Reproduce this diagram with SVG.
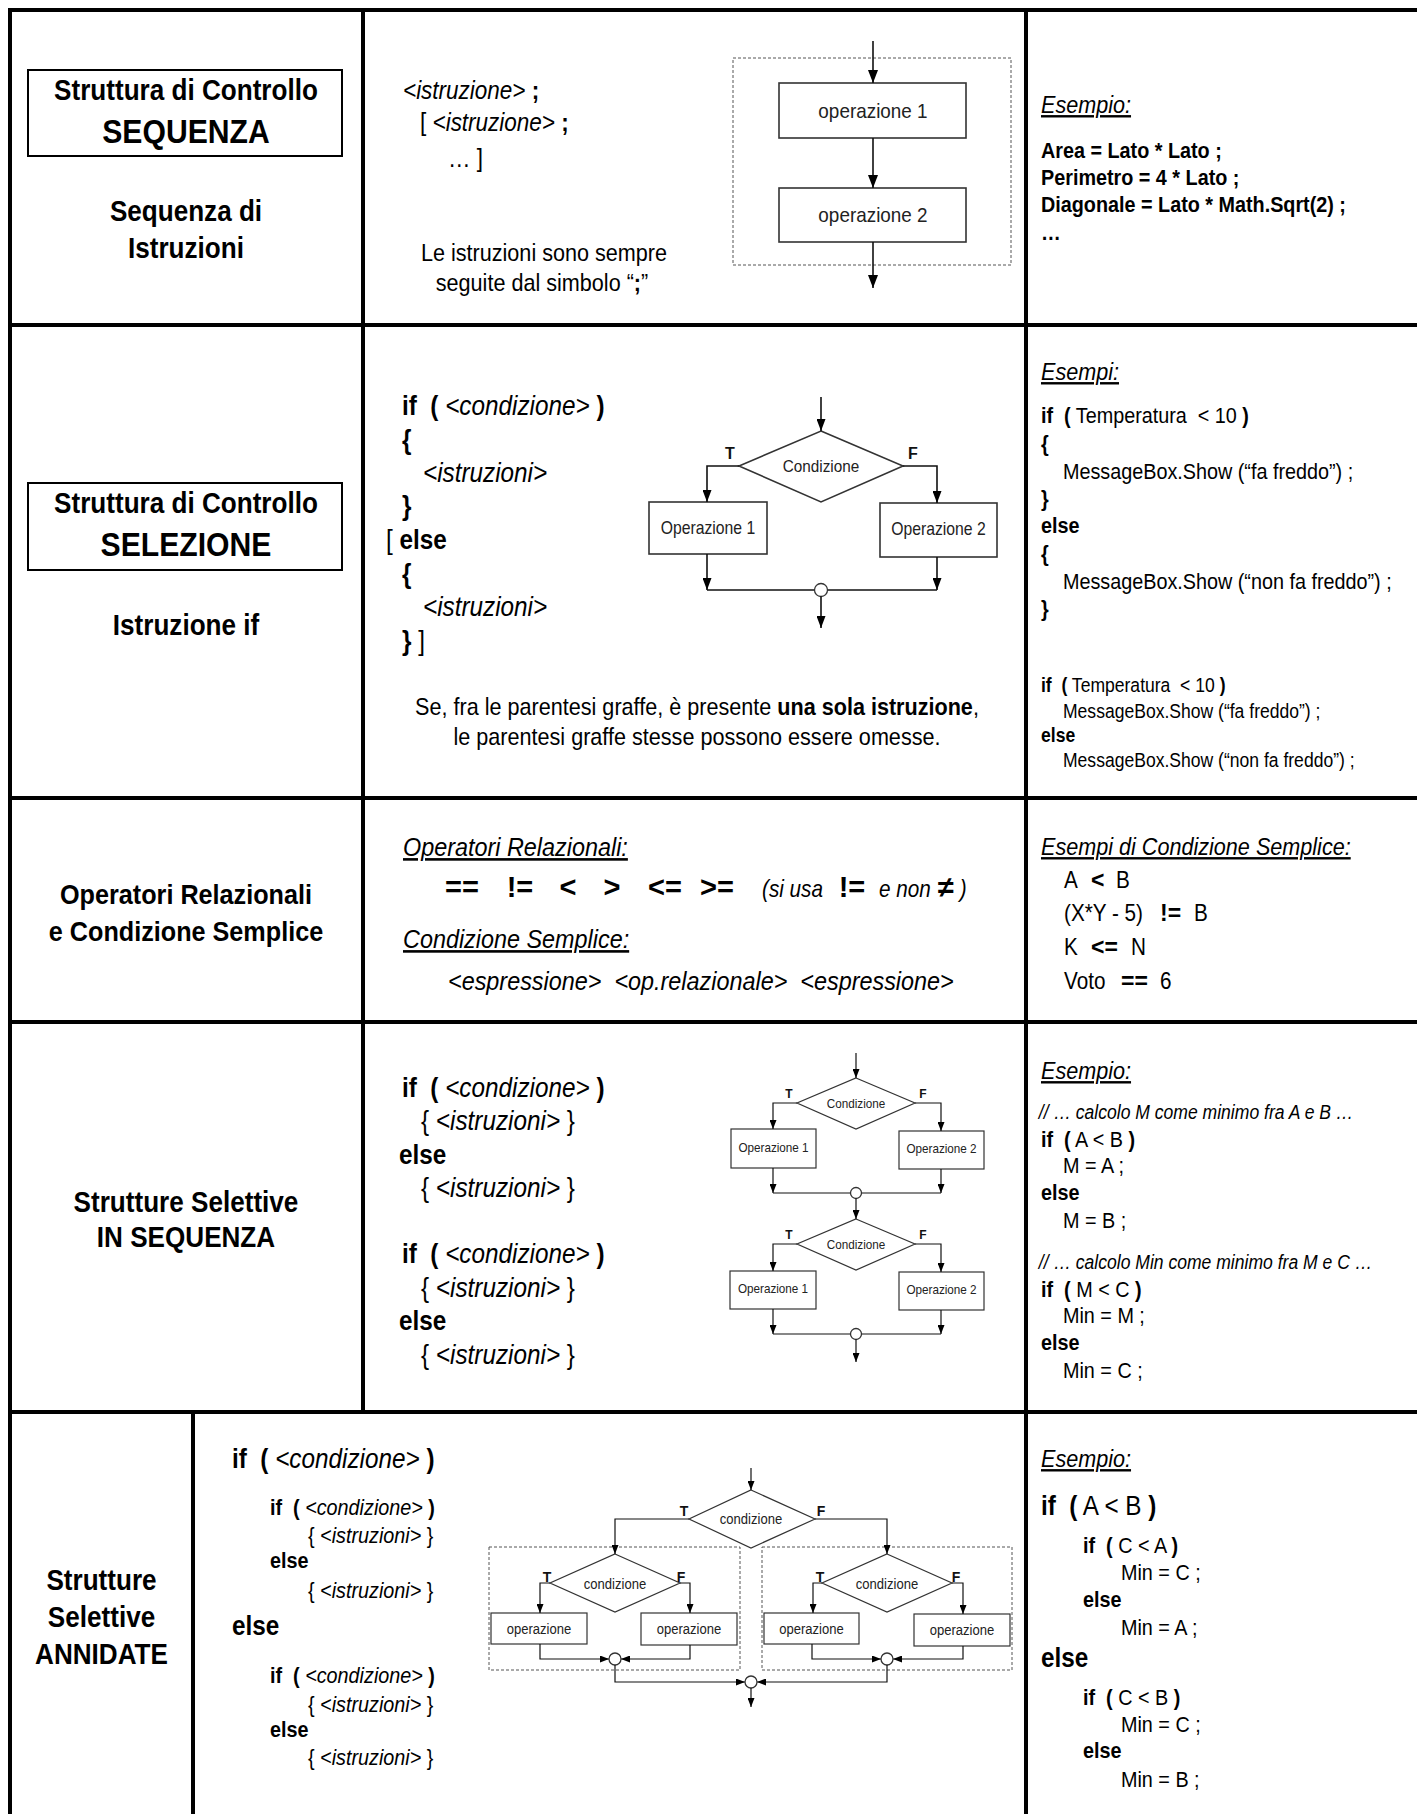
<svg xmlns="http://www.w3.org/2000/svg" width="1417" height="1814" viewBox="0 0 1417 1814">
<style>
text { font-family: "Liberation Sans", Arial, Helvetica, sans-serif; fill: #000; white-space: pre; }
.c { transform-box: fill-box; transform-origin: 0% 50%; transform: scaleX(0.9); }
.m { text-anchor: middle; transform-box: fill-box; transform-origin: 50% 50%; transform: scaleX(0.9); }
.b { font-weight: bold; }
.i { font-style: italic; }
.u { text-decoration: underline; }
.grid { stroke: #000; stroke-width: 4; stroke-linecap: square; fill: none; }
.tbox { fill: none; stroke: #000; stroke-width: 2; }
.box { fill: #fff; stroke: #333; stroke-width: 1.6; }
.box2 { fill: #fff; stroke: #333; stroke-width: 1.2; }
.dash { fill: none; stroke: #555; stroke-width: 1; stroke-dasharray: 3 2; }
.ln { fill: none; stroke: #111; stroke-width: 1.6; }
.ln2 { fill: none; stroke: #111; stroke-width: 1.2; }
.jn { fill: #fff; stroke: #333; stroke-width: 1.3; }
.fc { fill: #222; }
.tf { font-weight: bold; text-anchor: middle; fill: #111; }
</style>
<defs>
<marker id="aL" viewBox="0 0 10 10" refX="10" refY="5" markerWidth="13" markerHeight="10" markerUnits="userSpaceOnUse" orient="auto" preserveAspectRatio="none"><path d="M0,0L10,5L0,10z" fill="#000"/></marker>
<marker id="aM" viewBox="0 0 10 10" refX="10" refY="5" markerWidth="12" markerHeight="9" markerUnits="userSpaceOnUse" orient="auto" preserveAspectRatio="none"><path d="M0,0L10,5L0,10z" fill="#000"/></marker>
<marker id="aS" viewBox="0 0 10 10" refX="10" refY="5" markerWidth="9" markerHeight="7" markerUnits="userSpaceOnUse" orient="auto" preserveAspectRatio="none"><path d="M0,0L10,5L0,10z" fill="#000"/></marker>
</defs>
<rect width="1417" height="1814" fill="#fff"/>

<g id="grid" class="grid">
<line x1="10" y1="10" x2="1417" y2="10"/>
<line x1="10" y1="10" x2="10" y2="1814"/>
<line x1="363" y1="10" x2="363" y2="1412"/>
<line x1="1026" y1="10" x2="1026" y2="1814"/>
<line x1="10" y1="325" x2="1417" y2="325"/>
<line x1="10" y1="798" x2="1417" y2="798"/>
<line x1="10" y1="1022" x2="1417" y2="1022"/>
<line x1="10" y1="1412" x2="1417" y2="1412"/>
<line x1="193" y1="1412" x2="193" y2="1814"/>
</g>

<!-- ROW 1 -->
<g id="r1-label">
<rect class="tbox" x="28" y="70" width="314" height="86"/>
<text class="m b" x="186" y="100" font-size="29">Struttura di Controllo</text>
<text class="m b" x="186" y="143" font-size="33.5">SEQUENZA</text>
<text class="m b" x="186" y="221" font-size="29">Sequenza di</text>
<text class="m b" x="186" y="258" font-size="29">Istruzioni</text>
</g>
<g id="r1-syntax" font-size="25">
<text class="c" x="403" y="99"><tspan class="i">&lt;istruzione&gt;</tspan><tspan class="b"> ;</tspan></text>
<text class="c" x="420" y="131">[ <tspan class="i">&lt;istruzione&gt;</tspan><tspan class="b"> ;</tspan></text>
<text class="c" x="448" y="167">… ]</text>
<text class="m" x="544" y="261" font-size="24">Le istruzioni sono sempre</text>
<text class="m" x="542" y="291" font-size="24">seguite dal simbolo “<tspan class="b">;</tspan>”</text>
</g>
<g id="r1-flow">
<rect class="dash" x="733" y="58" width="278" height="207"/>
<g id="r1-op1"><rect class="box" x="779" y="83" width="187" height="55"/><text class="m fc" x="873" y="118" font-size="21">operazione 1</text></g>
<g id="r1-op2"><rect class="box" x="779" y="188" width="187" height="54"/><text class="m fc" x="873" y="222" font-size="21">operazione 2</text></g>
</g>
<g id="r1-example">
<text class="c i u" x="1041" y="113" font-size="24">Esempio:</text>
<text class="c b" x="1041" y="158" font-size="22">Area = Lato * Lato ;</text>
<text class="c b" x="1041" y="185" font-size="22">Perimetro = 4 * Lato ;</text>
<text class="c b" x="1041" y="212" font-size="22">Diagonale = Lato * Math.Sqrt(2) ;</text>
<text class="c b" x="1041" y="240" font-size="22">…</text>
</g>

<!-- ROW 2 -->
<g id="r2-label">
<rect class="tbox" x="28" y="483" width="314" height="87"/>
<text class="m b" x="186" y="513" font-size="29">Struttura di Controllo</text>
<text class="m b" x="186" y="556" font-size="33.5">SELEZIONE</text>
<text class="m b" x="186" y="635" font-size="29">Istruzione if</text>
</g>
<g id="r2-syntax" font-size="27">
<text class="c" x="402" y="415"><tspan class="b">if  (</tspan> <tspan class="i">&lt;condizione&gt;</tspan> <tspan class="b">)</tspan></text>
<text class="c b" x="402" y="449">{</text>
<text class="c i" x="423" y="482">&lt;istruzioni&gt;</text>
<text class="c b" x="402" y="515">}</text>
<text class="c" x="386" y="549">[ <tspan class="b">else</tspan></text>
<text class="c b" x="402" y="583">{</text>
<text class="c i" x="423" y="616">&lt;istruzioni&gt;</text>
<text class="c" x="402" y="650"><tspan class="b">}</tspan> ]</text>
<text class="m" x="697" y="715" font-size="24">Se, fra le parentesi graffe, è presente <tspan class="b">una sola istruzione</tspan>,</text>
<text class="m" x="697" y="745" font-size="24">le parentesi graffe stesse possono essere omesse.</text>
</g>
<g id="r2-flow">
<g id="r2-cond"><polygon class="box" points="821,431 903,466 821,502 739,466"/><text class="m fc" x="821" y="472" font-size="17">Condizione</text></g>
<text class="tf" x="730" y="459" font-size="16">T</text>
<text class="tf" x="913" y="459" font-size="16">F</text>
<g id="r2-op1"><rect class="box" x="649" y="502" width="118" height="52"/><text class="m fc" x="708" y="534" font-size="17.5">Operazione 1</text></g>
<g id="r2-op2"><rect class="box" x="880" y="503" width="117" height="54"/><text class="m fc" x="938.5" y="535" font-size="17.5">Operazione 2</text></g>
</g>
<g id="r2-example">
<text class="c i u" x="1041" y="380" font-size="24">Esempi:</text>
<g font-size="22">
<text class="c" x="1041" y="423"><tspan class="b">if  (</tspan> Temperatura  &lt; 10 <tspan class="b">)</tspan></text>
<text class="c b" x="1041" y="451">{</text>
<text class="c" x="1063" y="479">MessageBox.Show (“fa freddo”) ;</text>
<text class="c b" x="1041" y="506">}</text>
<text class="c b" x="1041" y="533">else</text>
<text class="c b" x="1041" y="561">{</text>
<text class="c" x="1063" y="589">MessageBox.Show (“non fa freddo”) ;</text>
<text class="c b" x="1041" y="616">}</text>
</g>
<g font-size="19.5">
<text class="c" x="1041" y="692"><tspan class="b">if  (</tspan> Temperatura  &lt; 10 <tspan class="b">)</tspan></text>
<text class="c" x="1063" y="718">MessageBox.Show (“fa freddo”) ;</text>
<text class="c b" x="1041" y="742">else</text>
<text class="c" x="1063" y="767">MessageBox.Show (“non fa freddo”) ;</text>
</g>
</g>

<!-- ROW 3 -->
<g id="r3-label">
<text class="m b" x="186" y="904" font-size="28">Operatori Relazionali</text>
<text class="m b" x="186" y="941" font-size="28">e Condizione Semplice</text>
</g>
<g id="r3-syntax">
<text class="c i u" x="403" y="856" font-size="26">Operatori Relazionali:</text>
<g class="b" font-size="29" text-anchor="middle">
<text x="462" y="897">==</text>
<text x="520" y="897">!=</text>
<text x="568" y="897">&lt;</text>
<text x="612" y="897">&gt;</text>
<text x="665" y="897">&lt;=</text>
<text x="717" y="897">&gt;=</text>
</g>
<text class="c i" x="762" y="897" font-size="23">(si usa</text>
<text class="b" x="852" y="897" font-size="29" text-anchor="middle">!=</text>
<text class="c i" x="879" y="897" font-size="23">e non</text>
<text class="b" x="946" y="897" font-size="29" text-anchor="middle">≠</text>
<text class="c i" x="960" y="897" font-size="23">)</text>
<text class="c i u" x="403" y="948" font-size="26">Condizione Semplice:</text>
<text class="c i" x="448" y="990" font-size="26">&lt;espressione&gt;  &lt;op.relazionale&gt;  &lt;espressione&gt;</text>
</g>
<g id="r3-example" font-size="23">
<text class="c i u" x="1041" y="855" font-size="24">Esempi di Condizione Semplice:</text>
<text class="c" x="1064" y="888">A</text><text class="b" x="1091" y="888">&lt;</text><text class="c" x="1116" y="888">B</text>
<text class="c" x="1064" y="921">(X*Y - 5)</text><text class="b" x="1160" y="921">!=</text><text class="c" x="1194" y="921">B</text>
<text class="c" x="1064" y="955">K</text><text class="b" x="1091" y="955">&lt;=</text><text class="c" x="1131" y="955">N</text>
<text class="c" x="1064" y="989">Voto</text><text class="b" x="1121" y="989">==</text><text class="c" x="1160" y="989">6</text>
</g>

<!-- ROW 4 -->
<g id="r4-label">
<text class="m b" x="186" y="1212" font-size="29">Strutture Selettive</text>
<text class="m b" x="186" y="1247" font-size="29">IN SEQUENZA</text>
</g>
<g id="r4-syntax" font-size="27">
<text class="c" x="402" y="1097"><tspan class="b">if  (</tspan> <tspan class="i">&lt;condizione&gt;</tspan> <tspan class="b">)</tspan></text>
<text class="c" x="421" y="1130">{ <tspan class="i">&lt;istruzioni&gt;</tspan> }</text>
<text class="c b" x="399" y="1164">else</text>
<text class="c" x="421" y="1197">{ <tspan class="i">&lt;istruzioni&gt;</tspan> }</text>
<text class="c" x="402" y="1263"><tspan class="b">if  (</tspan> <tspan class="i">&lt;condizione&gt;</tspan> <tspan class="b">)</tspan></text>
<text class="c" x="421" y="1297">{ <tspan class="i">&lt;istruzioni&gt;</tspan> }</text>
<text class="c b" x="399" y="1330">else</text>
<text class="c" x="421" y="1364">{ <tspan class="i">&lt;istruzioni&gt;</tspan> }</text>
</g>
<g id="r4-flow">
<g id="r4-cond1"><polygon class="box2" points="856,1078 915,1103 856,1129 797,1103"/><text class="m fc" x="856" y="1108" font-size="13">Condizione</text></g>
<text class="tf" x="789" y="1098" font-size="12">T</text>
<text class="tf" x="923" y="1098" font-size="12">F</text>
<g id="r4-op1"><rect class="box2" x="731" y="1129" width="85" height="39"/><text class="m fc" x="773.5" y="1152" font-size="13">Operazione 1</text></g>
<g id="r4-op2"><rect class="box2" x="899" y="1131" width="85" height="38"/><text class="m fc" x="941.5" y="1153" font-size="13">Operazione 2</text></g>
<g id="r4-cond2"><polygon class="box2" points="856,1219 915,1244 856,1270 797,1244"/><text class="m fc" x="856" y="1249" font-size="13">Condizione</text></g>
<text class="tf" x="789" y="1239" font-size="12">T</text>
<text class="tf" x="923" y="1239" font-size="12">F</text>
<g id="r4-op3"><rect class="box2" x="730" y="1271" width="86" height="38"/><text class="m fc" x="773" y="1293" font-size="13">Operazione 1</text></g>
<g id="r4-op4"><rect class="box2" x="899" y="1272" width="85" height="38"/><text class="m fc" x="941.5" y="1294" font-size="13">Operazione 2</text></g>
</g>
<g id="r4-example">
<text class="c i u" x="1041" y="1079" font-size="24">Esempio:</text>
<text class="c i" x="1039" y="1119" font-size="19.5">// … calcolo M come minimo fra A e B …</text>
<g font-size="22">
<text class="c" x="1041" y="1147"><tspan class="b">if  (</tspan> A &lt; B <tspan class="b">)</tspan></text>
<text class="c" x="1063" y="1173">M = A ;</text>
<text class="c b" x="1041" y="1200">else</text>
<text class="c" x="1063" y="1228">M = B ;</text>
</g>
<text class="c i" x="1039" y="1269" font-size="19.5">// … calcolo Min come minimo fra M e C …</text>
<g font-size="22">
<text class="c" x="1041" y="1297"><tspan class="b">if  (</tspan> M &lt; C <tspan class="b">)</tspan></text>
<text class="c" x="1063" y="1323">Min = M ;</text>
<text class="c b" x="1041" y="1350">else</text>
<text class="c" x="1063" y="1378">Min = C ;</text>
</g>
</g>

<!-- ROW 5 -->
<g id="r5-label">
<text class="m b" x="101.5" y="1590" font-size="29">Strutture</text>
<text class="m b" x="101.5" y="1627" font-size="29">Selettive</text>
<text class="m b" x="101.5" y="1664" font-size="29">ANNIDATE</text>
</g>
<g id="r5-syntax">
<text class="c" x="232" y="1468" font-size="27"><tspan class="b">if  (</tspan> <tspan class="i">&lt;condizione&gt;</tspan> <tspan class="b">)</tspan></text>
<g font-size="22">
<text class="c" x="270" y="1515"><tspan class="b">if  (</tspan> <tspan class="i">&lt;condizione&gt;</tspan> <tspan class="b">)</tspan></text>
<text class="c" x="308" y="1543">{ <tspan class="i">&lt;istruzioni&gt;</tspan> }</text>
<text class="c b" x="270" y="1568">else</text>
<text class="c" x="308" y="1598">{ <tspan class="i">&lt;istruzioni&gt;</tspan> }</text>
</g>
<text class="c b" x="232" y="1635" font-size="27">else</text>
<g font-size="22">
<text class="c" x="270" y="1683"><tspan class="b">if  (</tspan> <tspan class="i">&lt;condizione&gt;</tspan> <tspan class="b">)</tspan></text>
<text class="c" x="308" y="1712">{ <tspan class="i">&lt;istruzioni&gt;</tspan> }</text>
<text class="c b" x="270" y="1737">else</text>
<text class="c" x="308" y="1765">{ <tspan class="i">&lt;istruzioni&gt;</tspan> }</text>
</g>
</g>
<g id="r5-flow">
<rect class="dash" x="489" y="1547" width="251" height="123"/>
<rect class="dash" x="762" y="1547" width="250" height="123"/>
<g id="r5-cond"><polygon class="box2" points="751,1490 815,1519 751,1548 689,1519"/><text class="m fc" x="751" y="1524" font-size="14.5">condizione</text></g>
<text class="tf" x="684" y="1516" font-size="14">T</text>
<text class="tf" x="821" y="1516" font-size="14">F</text>
<g id="r5-condL"><polygon class="box2" points="615,1554 680,1583 615,1612 550,1583"/><text class="m fc" x="615" y="1589" font-size="14.5">condizione</text></g>
<text class="tf" x="547" y="1582" font-size="14">T</text>
<text class="tf" x="681" y="1582" font-size="14">F</text>
<g id="r5-condR"><polygon class="box2" points="887,1554 952,1583 887,1612 822,1583"/><text class="m fc" x="887" y="1589" font-size="14.5">condizione</text></g>
<text class="tf" x="820" y="1582" font-size="14">T</text>
<text class="tf" x="956" y="1582" font-size="14">F</text>
<g id="r5-opLL"><rect class="box2" x="491" y="1613" width="96" height="31"/><text class="m fc" x="539" y="1634" font-size="14.5">operazione</text></g>
<g id="r5-opLR"><rect class="box2" x="641" y="1613" width="96" height="32"/><text class="m fc" x="689" y="1634" font-size="14.5">operazione</text></g>
<g id="r5-opRL"><rect class="box2" x="764" y="1613" width="95" height="31"/><text class="m fc" x="811.5" y="1634" font-size="14.5">operazione</text></g>
<g id="r5-opRR"><rect class="box2" x="914" y="1614" width="96" height="32"/><text class="m fc" x="962" y="1635" font-size="14.5">operazione</text></g>
</g>
<g id="r5-example">
<text class="c i u" x="1041" y="1467" font-size="24">Esempio:</text>
<text class="c" x="1041" y="1515" font-size="27"><tspan class="b">if  (</tspan> A &lt; B <tspan class="b">)</tspan></text>
<g font-size="22">
<text class="c" x="1083" y="1553"><tspan class="b">if  (</tspan> C &lt; A <tspan class="b">)</tspan></text>
<text class="c" x="1121" y="1580">Min = C ;</text>
<text class="c b" x="1083" y="1607">else</text>
<text class="c" x="1121" y="1635">Min = A ;</text>
</g>
<text class="c b" x="1041" y="1667" font-size="27">else</text>
<g font-size="22">
<text class="c" x="1083" y="1705"><tspan class="b">if  (</tspan> C &lt; B <tspan class="b">)</tspan></text>
<text class="c" x="1121" y="1732">Min = C ;</text>
<text class="c b" x="1083" y="1758">else</text>
<text class="c" x="1121" y="1787">Min = B ;</text>
</g>
</g>

<g id="connectors">
<line class="ln" x1="873" y1="41" x2="873" y2="83" marker-end="url(#aL)"/>
<line class="ln" x1="873" y1="138" x2="873" y2="188" marker-end="url(#aL)"/>
<line class="ln" x1="873" y1="242" x2="873" y2="288" marker-end="url(#aL)"/>
<line class="ln" x1="821" y1="397" x2="821" y2="431" marker-end="url(#aM)"/>
<polyline class="ln" points="739,466 707,466 707,502" marker-end="url(#aM)"/>
<polyline class="ln" points="903,466 937,466 937,503" marker-end="url(#aM)"/>
<line class="ln" x1="707" y1="554" x2="707" y2="590" marker-end="url(#aM)"/>
<line class="ln" x1="937" y1="557" x2="937" y2="590" marker-end="url(#aM)"/>
<line class="ln" x1="707" y1="590" x2="937" y2="590"/>
<circle class="jn" cx="821" cy="590" r="6.5"/>
<line class="ln" x1="821" y1="596.5" x2="821" y2="628" marker-end="url(#aM)"/>
<line class="ln2" x1="856" y1="1053" x2="856" y2="1078" marker-end="url(#aS)"/>
<polyline class="ln2" points="797,1103 773,1103 773,1129" marker-end="url(#aS)"/>
<polyline class="ln2" points="915,1103 941,1103 941,1131" marker-end="url(#aS)"/>
<line class="ln2" x1="773" y1="1168" x2="773" y2="1193" marker-end="url(#aS)"/>
<line class="ln2" x1="941" y1="1169" x2="941" y2="1193" marker-end="url(#aS)"/>
<line class="ln2" x1="773" y1="1193" x2="941" y2="1193"/>
<circle class="jn" cx="856" cy="1193" r="5.5"/>
<line class="ln2" x1="856" y1="1198.5" x2="856" y2="1219" marker-end="url(#aS)"/>
<polyline class="ln2" points="797,1244 773,1244 773,1271" marker-end="url(#aS)"/>
<polyline class="ln2" points="915,1244 941,1244 941,1272" marker-end="url(#aS)"/>
<line class="ln2" x1="773" y1="1309" x2="773" y2="1334" marker-end="url(#aS)"/>
<line class="ln2" x1="941" y1="1310" x2="941" y2="1334" marker-end="url(#aS)"/>
<line class="ln2" x1="773" y1="1334" x2="941" y2="1334"/>
<circle class="jn" cx="856" cy="1334" r="5.5"/>
<line class="ln2" x1="856" y1="1339.5" x2="856" y2="1362" marker-end="url(#aS)"/>
<line class="ln2" x1="751" y1="1468" x2="751" y2="1490" marker-end="url(#aS)"/>
<polyline class="ln2" points="689,1519 615,1519 615,1554" marker-end="url(#aS)"/>
<polyline class="ln2" points="815,1519 887,1519 887,1554" marker-end="url(#aS)"/>
<polyline class="ln2" points="550,1583 540,1583 540,1613" marker-end="url(#aS)"/>
<polyline class="ln2" points="680,1583 690,1583 690,1613" marker-end="url(#aS)"/>
<polyline class="ln2" points="822,1583 813,1583 813,1613" marker-end="url(#aS)"/>
<polyline class="ln2" points="952,1583 963,1583 963,1614" marker-end="url(#aS)"/>
<polyline class="ln2" points="540,1644 540,1659 609,1659" marker-end="url(#aS)"/>
<polyline class="ln2" points="690,1645 690,1659 621,1659" marker-end="url(#aS)"/>
<circle class="jn" cx="615" cy="1659" r="6"/>
<polyline class="ln2" points="812,1644 812,1659 881,1659" marker-end="url(#aS)"/>
<polyline class="ln2" points="963,1646 963,1659 893,1659" marker-end="url(#aS)"/>
<circle class="jn" cx="887" cy="1659" r="6"/>
<polyline class="ln2" points="615,1665 615,1682 745,1682" marker-end="url(#aS)"/>
<polyline class="ln2" points="887,1665 887,1682 757,1682" marker-end="url(#aS)"/>
<circle class="jn" cx="751" cy="1682" r="6"/>
<line class="ln2" x1="751" y1="1688" x2="751" y2="1707" marker-end="url(#aS)"/>
</g>
</svg>
